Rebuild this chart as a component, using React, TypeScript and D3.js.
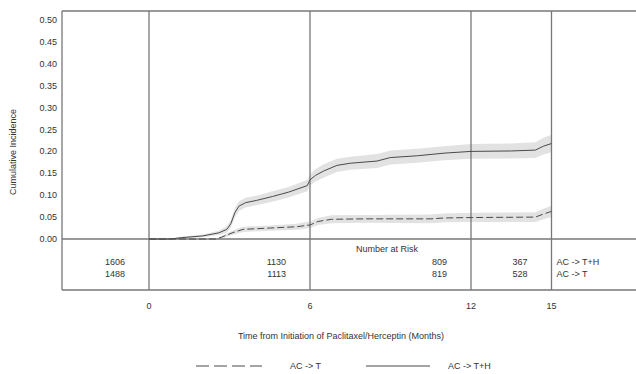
import { useEffect, useRef } from "react"
import * as d3 from "d3"

// AC -> T+H (solid line), cumulative incidence and confidence band
const thMonths = [0, 0.8, 1.2, 2.0, 2.6, 2.9, 3.05, 3.2, 3.35, 3.6, 4.0, 4.6, 5.2, 5.9, 6.0, 6.2, 6.5, 7.0, 7.5, 8.5, 9.0, 10.0, 11.0, 12.0, 13.5, 14.4, 14.7, 15.0]
const thValues = [0, 0, 0.003, 0.007, 0.014, 0.022, 0.035, 0.06, 0.075, 0.083, 0.088, 0.097, 0.107, 0.122, 0.135, 0.145, 0.155, 0.168, 0.173, 0.178, 0.186, 0.19, 0.196, 0.2, 0.201, 0.203, 0.212, 0.218]
const thLower = [0, 0, 0.001, 0.004, 0.009, 0.015, 0.026, 0.049, 0.064, 0.072, 0.077, 0.085, 0.095, 0.109, 0.122, 0.131, 0.14, 0.153, 0.158, 0.162, 0.17, 0.174, 0.18, 0.183, 0.184, 0.185, 0.193, 0.198]
const thUpper = [0, 0, 0.005, 0.01, 0.019, 0.029, 0.044, 0.071, 0.086, 0.094, 0.099, 0.109, 0.119, 0.135, 0.148, 0.159, 0.17, 0.183, 0.188, 0.194, 0.202, 0.206, 0.212, 0.217, 0.218, 0.221, 0.231, 0.238]

// AC -> T (dashed line)
const tMonths = [0, 2.5, 2.7, 3.1, 3.5, 4.5, 5.5, 6.0, 6.3, 6.8, 8.0, 10.5, 11.0, 12.0, 14.4, 14.7, 15.0]
const tValues = [0, 0, 0.004, 0.014, 0.022, 0.025, 0.028, 0.032, 0.04, 0.045, 0.046, 0.046, 0.048, 0.049, 0.05, 0.057, 0.063]
const tLower = [0, 0, 0.001, 0.009, 0.016, 0.019, 0.021, 0.025, 0.032, 0.036, 0.037, 0.036, 0.038, 0.039, 0.039, 0.045, 0.05]
const tUpper = [0, 0, 0.007, 0.019, 0.028, 0.031, 0.035, 0.04, 0.048, 0.054, 0.055, 0.056, 0.058, 0.06, 0.061, 0.069, 0.076]

const yTicks = [0, 0.05, 0.1, 0.15, 0.2, 0.25, 0.3, 0.35, 0.4, 0.45, 0.5]
const xTicks = [0, 6, 12, 15]
const riskTH = [1606, 1130, 809, 367]
const riskT = [1488, 1113, 819, 528]
const groupLabels = ["AC -> T+H", "AC -> T"]

type Pt = { m: number; v: number; lo: number; hi: number }

export default function App() {
  const svgRef = useRef<SVGSVGElement>(null)

  useEffect(() => {
    if (!svgRef.current) return
    const svg = d3.select(svgRef.current)
    svg.selectAll("*").remove()

    const W = 636
    const left = 62
    const top = 11
    const bottom = 290
    const frame = "#777"
    const ink = "#333"
    const font = "'Liberation Sans', Arial, sans-serif"

    const x = d3.scaleLinear().domain([0, 15]).range([149, 551.5])
    const y = d3.scaleLinear().domain([0, 0.5]).range([239, 20])

    const th: Pt[] = thMonths.map((m, i) => ({ m, v: thValues[i], lo: thLower[i], hi: thUpper[i] }))
    const t: Pt[] = tMonths.map((m, i) => ({ m, v: tValues[i], lo: tLower[i], hi: tUpper[i] }))

    const band = d3
      .area<Pt>()
      .x((d) => x(d.m))
      .y0((d) => y(d.lo))
      .y1((d) => y(d.hi))
    const line = d3
      .line<Pt>()
      .x((d) => x(d.m))
      .y((d) => y(d.v))

    // 신뢰구간
    svg.append("path").datum(th).attr("fill", "#e2e2e2").attr("d", band)
    svg.append("path").datum(t).attr("fill", "#e2e2e2").attr("d", band)

    // 프레임
    const g = svg.append("g").attr("stroke", frame).attr("stroke-width", 1.3)
    g.append("line").attr("x1", left).attr("x2", W).attr("y1", top).attr("y2", top)
    g.append("line").attr("x1", left).attr("x2", W).attr("y1", y(0)).attr("y2", y(0))
    g.append("line").attr("x1", left).attr("x2", W).attr("y1", bottom).attr("y2", bottom)
    g.append("line").attr("x1", left).attr("x2", left).attr("y1", top).attr("y2", bottom)
    xTicks.forEach((m) => {
      g.append("line").attr("x1", x(m)).attr("x2", x(m)).attr("y1", top).attr("y2", bottom)
    })

    // 곡선
    svg
      .append("path")
      .datum(th)
      .attr("fill", "none")
      .attr("stroke", "#4a4a4a")
      .attr("stroke-width", 1)
      .attr("d", line)
    svg
      .append("path")
      .datum(t)
      .attr("fill", "none")
      .attr("stroke", "#4a4a4a")
      .attr("stroke-width", 1)
      .attr("stroke-dasharray", "7,3")
      .attr("d", line)

    const txt = (tx: number, ty: number, s: string, anchor = "start", size = 9) =>
      svg
        .append("text")
        .attr("x", tx)
        .attr("y", ty)
        .attr("text-anchor", anchor)
        .style("font-family", font)
        .style("font-size", `${size}px`)
        .style("fill", ink)
        .text(s)

    // y 축 레이블
    yTicks.forEach((v) => txt(57, y(v) + 3, d3.format(".2f")(v), "end"))
    txt(0, 0, "Cumulative Incidence", "middle").attr("transform", "translate(16,152) rotate(-90)")

    // x 축
    xTicks.forEach((m) => txt(x(m), 309, String(m), "middle"))
    txt(341, 339, "Time from Initiation of Paclitaxel/Herceptin (Months)", "middle")

    // 위험군 표
    txt(356, 252, "Number at Risk")
    xTicks.forEach((m, i) => {
      txt(x(m) - 24, 265, String(riskTH[i]), "end")
      txt(x(m) - 24, 277, String(riskT[i]), "end")
    })
    txt(x(15) + 5, 265, groupLabels[0])
    txt(x(15) + 5, 277, groupLabels[1])

    // 범례
    svg
      .append("line")
      .attr("x1", 196)
      .attr("x2", 262)
      .attr("y1", 366)
      .attr("y2", 366)
      .attr("stroke", "#4a4a4a")
      .attr("stroke-dasharray", "13,5")
    txt(290, 369, groupLabels[1])
    svg
      .append("line")
      .attr("x1", 366)
      .attr("x2", 430)
      .attr("y1", 366)
      .attr("y2", 366)
      .attr("stroke", "#4a4a4a")
    txt(448, 369, groupLabels[0])
  }, [])

  return (
    <svg
      ref={svgRef}
      width={636}
      height={374}
      style={{ position: "absolute", left: 0, top: 0, background: "#fff" }}
    />
  )
}
